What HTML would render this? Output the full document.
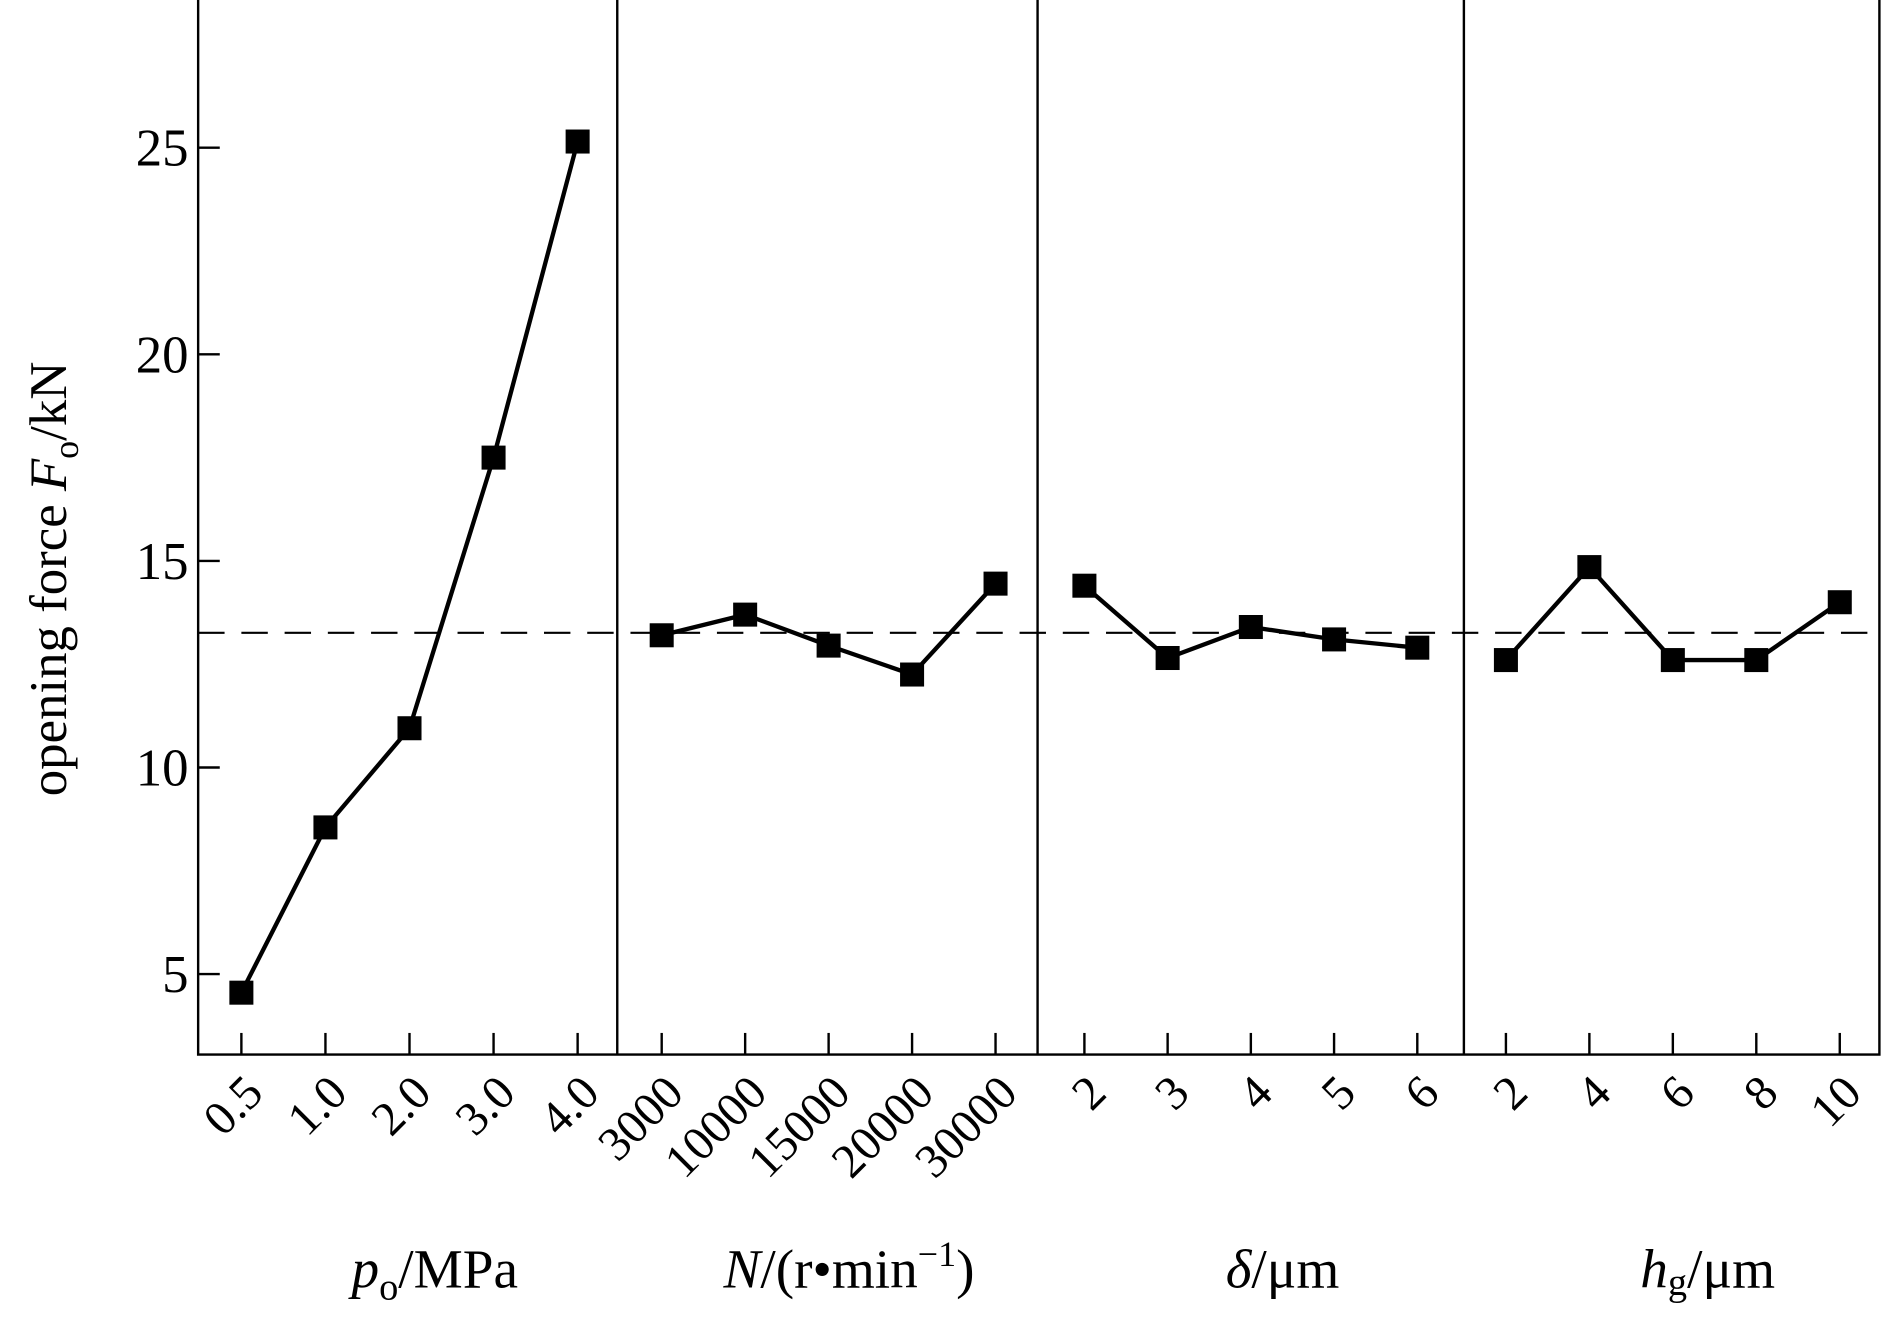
<!DOCTYPE html>
<html><head><meta charset="utf-8"><style>
html,body{margin:0;padding:0;background:#fff;}
svg{display:block;font-family:"Liberation Serif",serif;}
</style></head><body>
<svg id="chart" width="1883" height="1326" viewBox="0 0 1568 1104" preserveAspectRatio="none" xmlns="http://www.w3.org/2000/svg">
<g id="axes"></g>
<g id="series"></g>
<text transform="translate(55,482) rotate(-90)" text-anchor="middle" font-size="44">opening force <tspan font-style="italic">F</tspan><tspan font-size="30" dy="10">o</tspan><tspan dy="-10">/kN</tspan></text>
<text x="362" y="1072" text-anchor="middle" font-size="46"><tspan font-style="italic">p</tspan><tspan font-size="32" dy="10">o</tspan><tspan dy="-10">/MPa</tspan></text>
<text x="707" y="1072" text-anchor="middle" font-size="46"><tspan font-style="italic">N</tspan>/(r•min<tspan font-size="30" dy="-18">−1</tspan><tspan dy="18">)</tspan></text>
<text x="1068" y="1072" text-anchor="middle" font-size="46"><tspan font-style="italic">δ</tspan>/μm</text>
<text x="1422" y="1072" text-anchor="middle" font-size="46"><tspan font-style="italic">h</tspan><tspan font-size="32" dy="6">g</tspan><tspan dy="-6">/μm</tspan></text>
</svg>
<script>
const yTicks = [5, 10, 15, 20, 25];
const refValue = 13.26;
const cats1 = ["0.5", "1.0", "2.0", "3.0", "4.0"];
const vals1 = [4.55, 8.55, 10.95, 17.5, 25.15];
const cats2 = ["3000", "10000", "15000", "20000", "30000"];
const vals2 = [13.2, 13.7, 12.95, 12.25, 14.45];
const cats3 = ["2", "3", "4", "5", "6"];
const vals3 = [14.4, 12.65, 13.4, 13.1, 12.9];
const cats4 = ["2", "4", "6", "8", "10"];
const vals4 = [12.6, 14.85, 12.6, 12.6, 14.0];

const NS = "http://www.w3.org/2000/svg";
const L = 165, R = 1565, T = 0, B = 878;
const dividers = [514, 864, 1219];
const panels = [
  {first: 201, step: 70, cats: cats1, vals: vals1},
  {first: 551, step: 69.5, cats: cats2, vals: vals2},
  {first: 903, step: 69.3, cats: cats3, vals: vals3},
  {first: 1254, step: 69.5, cats: cats4, vals: vals4}
];
function yScale(v) { return 811 - (v - 5) * 34.4; }
function xScale(p, i) { return p.first + i * p.step; }
function mk(tag, attrs, parent) {
  const e = document.createElementNS(NS, tag);
  for (const k in attrs) e.setAttribute(k, attrs[k]);
  parent.appendChild(e);
  return e;
}
const axes = document.getElementById("axes");
const series = document.getElementById("series");

const frame = mk("rect", {x: L, y: T - 2, width: R - L, height: B - T + 2, fill: "none", stroke: "#000", "stroke-width": 2}, axes);


dividers.forEach(function (dx) {
  const d = mk("line", {x1: dx, y1: T, x2: dx, y2: B, stroke: "#000", "stroke-width": 2}, axes);
  
  
});
yTicks.forEach(function (v) {
  const y = yScale(v);
  const t = mk("line", {x1: L, y1: y, x2: L + 18, y2: y, stroke: "#000", "stroke-width": 2}, axes);
  
  
  const lb = mk("text", {x: L - 8, y: y + 15, "text-anchor": "end", "font-size": 44}, axes);
  lb.textContent = v;
  
  
});
const ref = mk("line", {x1: L, y1: yScale(refValue), x2: R, y2: yScale(refValue), stroke: "#000", "stroke-width": 1.8, "stroke-dasharray": "22,14"}, axes);



panels.forEach(function (p, pi) {
  let pts = [];
  p.cats.forEach(function (c, i) {
    const x = xScale(p, i);
    const t = mk("line", {x1: x, y1: B, x2: x, y2: B - 18, stroke: "#000", "stroke-width": 2}, axes);
    
    
    const lb = mk("text", {x: 0, y: 0, "text-anchor": "end", "font-size": 40, transform: "translate(" + (x + 20) + "," + (B + 34) + ") rotate(-45)"}, axes);
    lb.textContent = c;
    
    
    pts.push(x + "," + yScale(p.vals[i]));
  });
  const line = mk("polyline", {points: pts.join(" "), fill: "none", stroke: "#000", "stroke-width": 3.6}, series);
  
  
  p.vals.forEach(function (v, i) {
    const m = mk("rect", {x: xScale(p, i) - 10, y: yScale(v) - 10, width: 20, height: 20, fill: "#000"}, series);
    
    
  });
});
</script>
</body></html>
